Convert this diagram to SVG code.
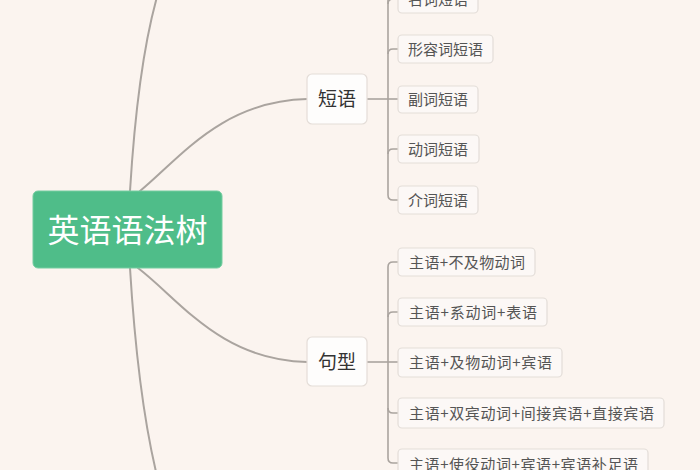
<svg xmlns="http://www.w3.org/2000/svg" width="700" height="470" viewBox="0 0 700 470">
<style>
.bg{fill:#fbf4ef}
.line{fill:none;stroke:#aaa49f;stroke-width:2;stroke-linecap:round}
.sub{fill:none;stroke:#aaa49f;stroke-width:1.6}
.topic{fill:#fefdfc;stroke:#e4ddd8;stroke-width:1.2}
.leaf{fill:#fcf8f6;stroke:#e3ddd8;stroke-width:1.2}
.root{fill:#4fbd89;stroke:#74cda0;stroke-width:1}
text{font-family:"Noto Sans CJK SC","Noto Sans",sans-serif}
.rt{font-size:32px;fill:#ffffff;text-anchor:middle}
.tt{font-size:19px;fill:#333333;text-anchor:middle}
.lt{font-size:15px;fill:#555555}
</style>
<rect class="bg" x="0" y="0" width="700" height="470"/>
<g id="connectors">
<path class="line" d="M130,191 Q138,60 159,-10"/>
<path class="line" d="M130,268 Q138,400 158,480"/>
<path class="line" d="M140,191 C180,158 222,101 307,99"/>
<path class="line" d="M138,268 C180,300 220,360 307,362"/>
<path class="sub" d="M367,99 H398"/>
<path class="sub" d="M388,-20 V195 Q388,200 393,200 H398"/>
<path class="sub" d="M388,4 Q388,-1 393,-1 H398"/>
<path class="sub" d="M388,54 Q388,49 393,49 H398"/>
<path class="sub" d="M388,154 Q388,149 393,149 H398"/>
<path class="sub" d="M367,362 H398"/>
<path class="sub" d="M398,262 H393 Q388,262 388,267 V458 Q388,463 393,463 H398"/>
<path class="sub" d="M388,317 Q388,312 393,312 H398"/>
<path class="sub" d="M388,408 Q388,413 393,413 H398"/>
</g>
<g id="root">
<rect class="root" x="33" y="191" width="189" height="77" rx="5"/>
<text class="rt" x="127.5" y="242">英语语法树</text>
</g>
<g id="phrase">
<rect class="topic" x="307" y="74" width="60" height="50" rx="5"/>
<text class="tt" x="337" y="106">短语</text>
</g>
<g id="noun-phrase">
<rect class="leaf" x="398" y="-16" width="80" height="29" rx="4"/>
<text class="lt" x="408" y="4.5">名词短语</text>
</g>
<g id="adj-phrase">
<rect class="leaf" x="398" y="35" width="95" height="28" rx="4"/>
<text class="lt" x="408" y="54.5">形容词短语</text>
</g>
<g id="adv-phrase">
<rect class="leaf" x="398" y="86" width="80" height="27" rx="4"/>
<text class="lt" x="408" y="105">副词短语</text>
</g>
<g id="verb-phrase">
<rect class="leaf" x="398" y="135" width="81" height="28" rx="4"/>
<text class="lt" x="408" y="154.5">动词短语</text>
</g>
<g id="prep-phrase">
<rect class="leaf" x="398" y="186" width="80" height="28" rx="4"/>
<text class="lt" x="408" y="205.5">介词短语</text>
</g>
<g id="sentence">
<rect class="topic" x="307" y="337" width="60" height="49" rx="5"/>
<text class="tt" x="337" y="369">句型</text>
</g>
<g id="s1">
<rect class="leaf" x="398" y="248" width="137" height="28" rx="4"/>
<text class="lt" x="409" y="267.5" textLength="116" lengthAdjust="spacing">主语+不及物动词</text>
</g>
<g id="s2">
<rect class="leaf" x="398" y="298" width="149" height="28" rx="4"/>
<text class="lt" x="409" y="317.5" textLength="128" lengthAdjust="spacing">主语+系动词+表语</text>
</g>
<g id="s3">
<rect class="leaf" x="398" y="348" width="164" height="29" rx="4"/>
<text class="lt" x="409" y="368" textLength="143" lengthAdjust="spacing">主语+及物动词+宾语</text>
</g>
<g id="s4">
<rect class="leaf" x="398" y="398" width="266" height="30" rx="4"/>
<text class="lt" x="409" y="418.5" textLength="245" lengthAdjust="spacing">主语+双宾动词+间接宾语+直接宾语</text>
</g>
<g id="s5">
<rect class="leaf" x="398" y="449" width="250" height="30" rx="4"/>
<text class="lt" x="409" y="469.5" textLength="229" lengthAdjust="spacing">主语+使役动词+宾语+宾语补足语</text>
</g>
</svg>
